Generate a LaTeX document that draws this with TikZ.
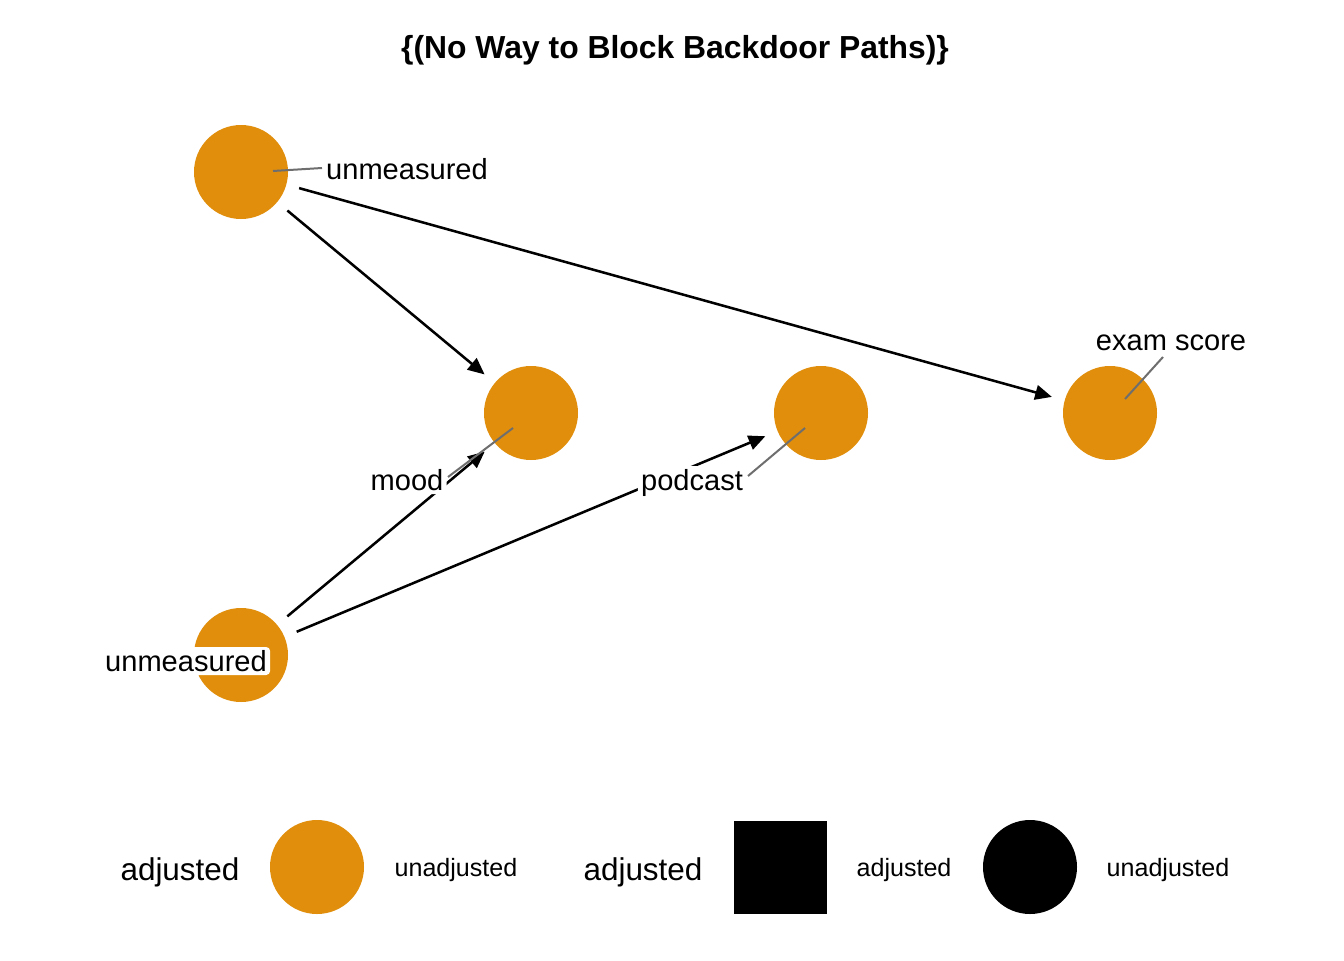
\documentclass[tikz,border=0pt]{standalone}
\usepackage{fontspec}
\setmainfont{Liberation Sans}
\usetikzlibrary{arrows.meta}
\definecolor{nodeorange}{HTML}{E08E0B}
\definecolor{seggray}{HTML}{6E6E6E}
\pgfdeclarelayer{bg}
\pgfdeclarelayer{paper}
\pgfsetlayers{paper,bg,main}
\tikzset{
  dagnode/.style={circle, fill=nodeorange, minimum size=70.5pt, inner sep=0pt, outer sep=10pt},
  lab/.style={fill=white, rounded corners=3pt, inner sep=2.5pt, font=\fontsize{21.8}{24}\selectfont},
  edge/.style={line width=1.9pt, -{Triangle[length=12.5pt,width=11pt]}},
  seg/.style={line width=1.5pt, seggray},
  legbig/.style={font=\fontsize{23.6}{26}\selectfont},
  legsmall/.style={font=\fontsize{18.8}{21}\selectfont},
}
\begin{document}
\begin{tikzpicture}[x=0.75pt,y=-0.75pt]
\useasboundingbox (0,0) rectangle (1344,960);
\begin{pgfonlayer}{paper}
\fill[white] (0,0) rectangle (1344,960);
\end{pgfonlayer}
\node[font=\bfseries\fontsize{23.9}{26}\selectfont] (title) at (675,50) {\{(No Way to Block Backdoor Paths)\}};
\begin{pgfonlayer}{bg}
\node[dagnode] (u1) at (241,172) {};
\node[dagnode] (mood) at (531,413) {};
\node[dagnode] (podcast) at (821,413) {};
\node[dagnode] (exam) at (1110,413) {};
\node[dagnode] (u2) at (241,655) {};
\end{pgfonlayer}
% labels
\node[lab] (lu1) at (407,169) {unmeasured};
\node[lab] (lmood) at (407,480) {mood};
\node[lab] (lpod) at (692,483) {podcast};
\node[lab] (lexam) at (1171,343) {exam score};
\node[lab] (lu2) at (186,661) {unmeasured};
\coordinate (su1) at (273,171);
\coordinate (eu1) at (322,168);
\coordinate (smood) at (513,428);
\coordinate (emood) at (448,477);
\coordinate (spod) at (805,428);
\coordinate (epod) at (748,476);
\coordinate (sexam) at (1125,399);
\coordinate (eexam) at (1163,357);
\begin{pgfonlayer}{bg}
\draw[edge] (u1) -- (mood);
\draw[edge] (u1) -- (exam);
\draw[edge] (u2) -- (mood);
\draw[edge] (u2) -- (podcast);
\draw[seg] (su1) -- (eu1);
\draw[seg] (smood) -- (emood);
\draw[seg] (spod) -- (epod);
\draw[seg] (sexam) -- (eexam);
\end{pgfonlayer}
% legend
\node[legbig] (leg1) at (180,872) {adjusted};
\node[circle, fill=nodeorange, minimum size=70.5pt, inner sep=0pt] (legc1) at (317,867) {};
\node[legsmall] (leg2) at (456,870) {unadjusted};
\node[legbig] (leg3) at (643,872) {adjusted};
\node[fill=black, minimum size=69.75pt, inner sep=0pt] (legsq) at (780,867) {};
\node[legsmall] (leg4) at (904,870) {adjusted};
\node[circle, fill=black, minimum size=70.5pt, inner sep=0pt] (legc2) at (1030,867) {};
\node[legsmall] (leg5) at (1168,870) {unadjusted};
\end{tikzpicture}
\end{document}
